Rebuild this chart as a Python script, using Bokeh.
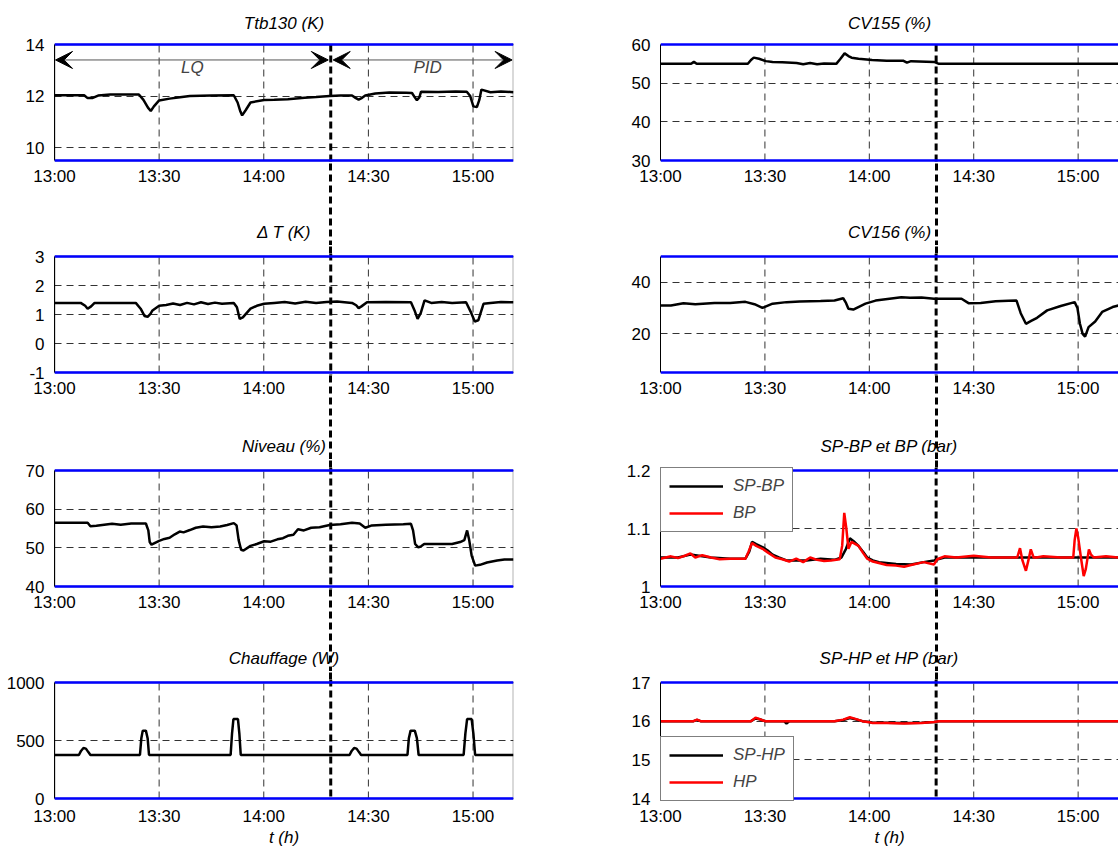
from bokeh.plotting import figure
from bokeh.layouts import gridplot
from bokeh.models import (Range1d, FixedTicker, Span, Arrow, VeeHead, Label, Legend,
                          LegendItem, BoxAnnotation, LinearAxis)
from bokeh.embed import file_html
from bokeh.resources import INLINE

FONT = "Liberation Sans"
FS = "17px"

# ---------------- data (time in minutes after 13:00) ----------------
x_ticks = [0, 30, 60, 90, 120]
x_tick_labels = ["13:00", "13:30", "14:00", "14:30", "15:00"]
t_end = 131.6
switch_t = 79.2          # LQ -> PID switch (about 14:19)
mode_labels = ["LQ", "PID"]
mode_label_t = [39.5, 107.0]

ttb_t = [0, 8.5, 9.5, 10.8, 12.5, 16, 24.2, 25.5, 26.8, 27.6,
         28.5, 30, 33, 36, 38.8, 45, 51.4, 52.5, 53.3, 53.8,
         54.8, 56.2, 60.1, 63, 66.9, 71.7, 75, 78.9, 82, 85.3,
         86.3, 87.2, 88.2, 89.1, 92, 96, 100.8, 102.5, 103.3, 103.9,
         104.6, 105.1, 110, 115, 118.2, 119.2, 120.1, 121.1, 121.8, 122.4,
         125, 128, 131.6]
ttb_v = [12.03, 12.03, 11.92, 11.92, 12.02, 12.06, 12.06, 11.85, 11.55, 11.42,
         11.6, 11.83, 11.9, 11.95, 12.0, 12.02, 12.03, 11.75, 11.4, 11.25,
         11.45, 11.75, 11.85, 11.86, 11.88, 11.93, 11.96, 12.0, 12.02, 12.02,
         11.93, 11.86, 11.93, 12.02, 12.1, 12.14, 12.13, 12.12, 11.95, 11.84,
         11.95, 12.17, 12.16, 12.18, 12.17, 12.0, 11.6, 11.57, 11.85, 12.25,
         12.15, 12.18, 12.15]

dT_t = [0, 7.5, 8.8, 9.5, 10.5, 11.5, 18, 23.3, 24.7, 25.8,
        26.7, 27.5, 28.1, 30, 32, 34, 36, 38, 40, 42,
        44, 46, 48, 51.4, 52.3, 53.1, 54, 56.2, 58, 60.1,
        63, 66, 69, 72, 75, 78, 81, 85.3, 86.5, 87.2,
        88, 89.6, 95, 102.2, 103.2, 104.1, 105, 106.1, 108, 111,
        114, 118, 119.3, 120.5, 121.5, 123, 125, 128, 131.6]
dT_v = [1.4, 1.4, 1.3, 1.2, 1.28, 1.4, 1.4, 1.4, 1.2, 0.95,
        0.92, 1.02, 1.14, 1.3, 1.33, 1.38, 1.33, 1.4, 1.35, 1.42,
        1.36, 1.41, 1.37, 1.4, 1.25, 0.85, 0.9, 1.2, 1.3, 1.37,
        1.4, 1.43, 1.38, 1.44, 1.4, 1.43, 1.45, 1.4, 1.32, 1.22,
        1.28, 1.42, 1.43, 1.42, 1.15, 0.85, 1.05, 1.49, 1.4, 1.43,
        1.4, 1.42, 1.1, 0.76, 0.8, 1.37, 1.4, 1.43, 1.42]

niv_t = [0, 9.5, 10.3, 12, 16.5, 19, 22, 26.2, 26.9, 27.3,
         27.8, 30, 31.5, 33, 34.5, 35.9, 37, 38.8, 40.5, 42.6,
         45, 47.5, 49.5, 51.4, 52.2, 52.8, 53.5, 54.2, 56.2, 58,
         60.1, 62, 63.9, 65.5, 66.9, 68.5, 69.8, 71.5, 73.6, 76,
         78.9, 82, 85.3, 87.5, 89.1, 91, 95, 100, 102.2, 102.8,
         103.4, 104.3, 105.1, 106, 110, 114, 116.3, 117.5, 118.3, 118.9,
         119.6, 120.6, 122, 124, 126.9, 129, 131.6]
niv_v = [56.5, 56.5, 55.6, 55.7, 56.2, 56.0, 56.3, 56.3, 54.5, 51.5,
         50.8, 51.8, 52.3, 52.6, 53.5, 54.2, 54.0, 54.6, 55.2, 55.5,
         55.3, 55.5, 55.9, 56.4, 55.8, 52, 49.5, 49.3, 50.5, 51.0,
         51.7, 51.6, 52.2, 52.5, 53.1, 53.4, 54.8, 54.5, 55.2, 55.3,
         55.9, 56.1, 56.5, 56.3, 55.2, 55.8, 56.0, 56.1, 56.2, 54.5,
         51, 50.1, 50.4, 51, 51, 51, 51.5, 52, 54.5, 52,
         48, 45.4, 45.6, 46.2, 46.7, 47, 47]

chauf_t = [0, 7.0, 7.6, 8.3, 9.0, 9.7, 10.3,
           24.5, 24.9, 25.3, 26.2, 26.7, 27.1,
           50.5, 50.9, 51.3, 52.6, 53.0, 53.4,
           84.6, 85.2, 85.9, 86.6, 87.3, 87.9,
           101.2, 101.6, 102.1, 103.3, 103.9, 104.4,
           117.3, 117.8, 118.3, 119.6, 120.1, 120.6,
           131.6]
chauf_v = [375, 375, 410, 435, 430, 400, 375,
           375, 520, 585, 585, 520, 375,
           375, 560, 685, 685, 560, 375,
           375, 410, 435, 430, 400, 375,
           375, 520, 585, 585, 520, 375,
           375, 560, 685, 685, 560, 375,
           375]

cv155_t = [0, 8.8, 9.6, 10.4, 25.1, 26.0, 26.8, 28.3, 30.3, 32.2,
           35, 39.1, 41, 43, 45, 47, 50.5, 51.6, 52.9, 54.0,
           54.9, 56.9, 60.8, 65, 69.7, 70.8, 72, 78.6, 80, 131.6]
cv155_v = [55, 55, 55.5, 55, 55, 56.0, 56.6, 56.3, 55.7, 55.5,
           55.4, 55.2, 54.9, 55.2, 54.9, 55.1, 55, 56.2, 57.7, 57.0,
           56.6, 56.3, 56.0, 55.8, 55.8, 55.3, 55.7, 55.5, 55, 55]

cv156_t = [0, 3, 6.6, 10, 15.5, 20, 24.4, 27, 29.3, 32.2,
           36.2, 40, 46, 50, 52.5, 53.3, 54, 55.4, 57, 58.9,
           61.8, 65.8, 69.2, 71.7, 75, 78.6, 82, 86.5, 88.5, 92,
           96.3, 100, 102.3, 103.5, 105, 106.5, 108.2, 111.1, 115, 119,
           119.8, 120.5, 121.3, 122, 123, 124.9, 126.9, 129.9, 131.6]
cv156_v = [31, 31, 31.9, 31.5, 32, 32, 32.4, 31.5, 30.1, 31.7,
           32.3, 32.5, 32.7, 32.9, 33.8, 32, 29.7, 29.4, 30.5, 31.7,
           32.9, 33.6, 34.2, 34, 34.1, 33.6, 33.6, 33.6, 31.9, 32,
           32.6, 32.8, 32.9, 28, 23.9, 25, 26.2, 29.1, 30.8, 32.3,
           30, 24, 20, 18.9, 22.6, 24.8, 28.5, 30.4, 31]

spbp_t = [0, 5, 8.6, 11, 14.5, 20, 24.4, 25.5, 26.3, 27.5,
          29.3, 30.8, 32.2, 34, 36.2, 42, 46, 50, 52, 53.3,
          54.4, 55.5, 56.9, 58.2, 59.4, 61, 62.8, 67.7, 72, 75.6,
          78.6, 81.6, 90, 131.6]
spbp_v = [1.05, 1.05, 1.055, 1.053, 1.05, 1.048, 1.048, 1.06, 1.077, 1.073,
          1.068, 1.062, 1.055, 1.05, 1.045, 1.045, 1.048, 1.046, 1.05, 1.065,
          1.083, 1.078, 1.07, 1.06, 1.05, 1.045, 1.042, 1.039, 1.038, 1.042,
          1.045, 1.05, 1.05, 1.05]

bp_t = [0, 3, 5, 7, 8.6, 10, 12, 14.5, 17, 20,
        24.4, 25.3, 26.3, 27.5, 29.3, 31, 33, 35, 37, 39,
        41, 43, 45, 47, 49, 51.5, 52.2, 52.8, 53.4, 54.0,
        54.9, 56.9, 58.2, 59.4, 61, 63, 65, 67.7, 70, 72,
        75.6, 78.6, 79.5, 81.6, 85, 90, 95, 100, 102.5, 103.3,
        104.0, 105.0, 105.7, 106.4, 107.2, 108, 110, 115, 118.6, 119.0,
        119.5, 120.0, 120.8, 121.6, 122.2, 122.6, 123.1, 123.7, 124.5, 128,
        131.6]
bp_v = [1.048, 1.052, 1.049, 1.053, 1.057, 1.05, 1.054, 1.05, 1.047, 1.048,
        1.048, 1.06, 1.075, 1.07, 1.065, 1.058, 1.05, 1.047, 1.043, 1.048,
        1.042, 1.05, 1.046, 1.044, 1.045, 1.047, 1.07, 1.127, 1.1, 1.065,
        1.077, 1.07, 1.058, 1.048, 1.043, 1.04, 1.037, 1.036, 1.034, 1.037,
        1.042, 1.038, 1.047, 1.052, 1.05, 1.053, 1.05, 1.05, 1.05, 1.066,
        1.045, 1.027, 1.045, 1.064, 1.05, 1.05, 1.052, 1.05, 1.05, 1.08,
        1.1, 1.085, 1.05, 1.018, 1.03, 1.045, 1.064, 1.055, 1.05, 1.052,
        1.05]

sphp_t = [0, 9.5, 10.5, 11.5, 26, 27.3, 28.5, 30, 35.5, 36.2,
          37, 50, 52.5, 54.4, 56, 58, 60, 61, 65, 70,
          75, 78.6, 80, 131.6]
sphp_v = [16.0, 16.0, 16.03, 16.0, 16.0, 16.07, 16.05, 16.0, 16.0, 15.94,
          16.0, 16.0, 16.03, 16.08, 16.05, 16.0, 15.98, 15.96, 15.96, 15.95,
          15.96, 15.98, 16.0, 16.0]

hp_t = [0, 9.5, 10.5, 11.5, 26, 27.3, 28.5, 30, 50, 52.5,
        54.4, 56, 58, 60, 61, 65, 70, 75, 78.6, 80,
        90, 131.6]
hp_v = [16.0, 16.0, 16.04, 16.0, 16.0, 16.09, 16.05, 16.0, 16.0, 16.04,
        16.1, 16.06, 16.0, 15.97, 15.95, 15.95, 15.94, 15.95, 15.98, 16.0,
        16.0, 16.0]

# panel definitions: title, y-range, y ticks, y tick labels
panels_left = [
    ("Ttb130 (K)", (9.5, 14), [10, 12, 14], ["10", "12", "14"]),
    ("\u0394 T (K)", (-1, 3), [-1, 0, 1, 2, 3], ["-1", "0", "1", "2", "3"]),
    ("Niveau (%)", (40, 70), [40, 50, 60, 70], ["40", "50", "60", "70"]),
    ("Chauffage (W)", (0, 1000), [0, 500, 1000], ["0", "500", "1000"]),
]
panels_right = [
    ("CV155 (%)", (30, 60), [30, 40, 50, 60], ["30", "40", "50", "60"]),
    ("CV156 (%)", (5, 50), [20, 40], ["20", "40"]),
    ("SP-BP et BP (bar)", (1, 1.2), [1, 1.1, 1.2], ["1", "1.1", "1.2"]),
    ("SP-HP et HP (bar)", (14, 17), [14, 15, 16, 17], ["14", "15", "16", "17"]),
]
x_label = "t (h)"

# ---------------- layout constants (pixels) ----------------
BOX_H = 116                  # height of each axes box
EXT = 3                      # frame margin above / below each box
TOP = [41, 8, 8, 8]          # border above each frame
BOTTOM = [82, 84, 82, 47]    # border under each frame (tick labels + next title)
TICK_STANDOFF = [-3, -3, -3, -1]
LABEL_STANDOFF = [34, 36, 34, -1]
GRID_DASH = "7 5"
MARK_DASH = "7 4"


def mark_axis():
    # an axis whose only tick continues the switch-time marker outside the frame
    return LinearAxis(ticker=FixedTicker(ticks=[switch_t]),
                      major_tick_in=-150, major_tick_out=0,
                      major_tick_line_color="black", major_tick_line_width=3,
                      major_tick_line_dash=MARK_DASH,
                      minor_tick_line_color=None, axis_line_color=None,
                      major_label_text_font_size="0px",
                      major_label_text_color=None,
                      major_label_standoff=0)


def make_fig(panels, col, row):
    title, (y0, y1), yt, yl = panels[row]
    left = col == 0
    upp = (y1 - y0) / BOX_H
    r0 = y0 - EXT * upp
    r1 = y1 + EXT * upp
    p = figure(frame_width=459 if left else 458, frame_height=BOX_H + 2 * EXT,
               x_range=Range1d(0, t_end), y_range=Range1d(r0, r1),
               title=title if row == 0 else None,
               output_backend="svg", toolbar_location=None,
               min_border_left=54 if left else 80,
               min_border_right=67 if left else 0,
               min_border_top=TOP[row],
               min_border_bottom=BOTTOM[row],
               background_fill_color="white", border_fill_color="white")
    p.outline_line_color = None
    if row == 0:
        p.title.align = "center"
        p.title.text_font = FONT
        p.title.text_font_size = FS
        p.title.text_font_style = "italic"
        p.title.text_color = "black"
        p.title.standoff = 18

    # y axis, bounded to the box
    ya = p.yaxis[0]
    ya.ticker = FixedTicker(ticks=yt)
    ya.major_label_overrides = dict(zip(yt, yl))
    ya.bounds = (y0, y1)
    ya.major_label_text_font = FONT
    ya.major_label_text_font_size = FS
    ya.major_label_text_color = "black"
    ya.major_tick_line_color = None
    ya.minor_tick_line_color = None
    ya.major_label_standoff = 4
    ya.axis_line_color = "black"
    ya.axis_line_width = 1

    # x axis: tick labels, and as axis label the title of the panel below
    xa = p.xaxis[0]
    xa.ticker = FixedTicker(ticks=x_ticks)
    xa.major_label_overrides = dict(zip(x_ticks, x_tick_labels))
    xa.major_label_text_font = FONT
    xa.major_label_text_font_size = FS
    xa.major_label_text_color = "black"
    xa.major_tick_line_color = None
    xa.minor_tick_line_color = None
    xa.major_label_standoff = TICK_STANDOFF[row]
    xa.axis_line_color = None
    xa.axis_label = panels[row + 1][0] if row < 3 else x_label
    xa.axis_label_text_font = FONT
    xa.axis_label_text_font_size = FS
    xa.axis_label_text_font_style = "italic"
    xa.axis_label_text_color = "black"
    xa.axis_label_standoff = LABEL_STANDOFF[row]

    if row < 3:
        p.below = [mark_axis()] + list(p.below)
    if row > 0:
        p.above = [mark_axis()]

    p.ygrid.grid_line_color = "#333333"
    p.ygrid.grid_line_dash = GRID_DASH
    p.xgrid.visible = False
    gx = [t for t in x_ticks if t > 0]
    p.segment(x0=gx, y0=[y0] * len(gx), x1=gx, y1=[y1] * len(gx),
              line_color="#333333", line_width=1, line_dash=GRID_DASH)

    if left:
        p.add_layout(BoxAnnotation(left=0, right=t_end, bottom=y0, top=y1,
                                   fill_alpha=0, line_color="black", line_width=2))
    for loc in (y0, y1):
        p.add_layout(Span(location=loc, dimension="width", line_color="#0000ff",
                          line_width=2.5))

    # switch-time marker inside the frame
    p.segment(x0=[switch_t], y0=[y1 if row == 0 else r1], x1=[switch_t],
              y1=[y0 if row == 3 else r0], line_color="black", line_width=3,
              line_dash=MARK_DASH)
    return p


figs_left = [make_fig(panels_left, 0, i) for i in range(4)]
figs_right = [make_fig(panels_right, 1, i) for i in range(4)]

LW = 2.5
figs_left[0].line(ttb_t, ttb_v, line_color="black", line_width=LW)
figs_left[1].line(dT_t, dT_v, line_color="black", line_width=LW)
figs_left[2].line(niv_t, niv_v, line_color="black", line_width=LW)
figs_left[3].line(chauf_t, chauf_v, line_color="black", line_width=LW)
figs_right[0].line(cv155_t, cv155_v, line_color="black", line_width=LW)
figs_right[1].line(cv156_t, cv156_v, line_color="black", line_width=LW)
r_spbp = figs_right[2].line(spbp_t, spbp_v, line_color="black", line_width=LW)
r_bp = figs_right[2].line(bp_t, bp_v, line_color="#ff0000", line_width=LW)
r_sphp = figs_right[3].line(sphp_t, sphp_v, line_color="black", line_width=LW)
r_hp = figs_right[3].line(hp_t, hp_v, line_color="#ff0000", line_width=LW)

# LQ / PID arrows in first panel
p1 = figs_left[0]
arrow_y = 13.4
for xs, xe in ((0.3, switch_t - 0.7), (switch_t + 0.7, t_end - 0.4)):
    p1.add_layout(Arrow(start=VeeHead(size=17, fill_color="black", line_color="black"),
                        end=VeeHead(size=17, fill_color="black", line_color="black"),
                        x_start=xs, y_start=arrow_y, x_end=xe, y_end=arrow_y,
                        line_color="#555555", line_width=1))
for txt, tx in zip(mode_labels, mode_label_t):
    p1.add_layout(Label(x=tx, y=13.1, text=txt, text_align="center",
                        text_baseline="middle", text_font=FONT,
                        text_font_size=FS, text_font_style="italic"))


def add_legend(p, items, loc):
    lg = Legend(items=[LegendItem(label=l, renderers=[r]) for l, r in items],
                location=loc, margin=0, padding=8, spacing=7,
                glyph_width=54, glyph_height=20, label_height=20,
                label_standoff=10, border_line_color="black",
                border_line_width=1, background_fill_color="white",
                background_fill_alpha=1.0, label_text_font=FONT,
                label_text_font_size=FS, label_text_font_style="italic")
    p.add_layout(lg)


add_legend(figs_right[2], [("SP-BP", r_spbp), ("BP", r_bp)], "top_left")
add_legend(figs_right[3], [("SP-HP", r_sphp), ("HP", r_hp)], "bottom_left")

grid = gridplot([[figs_left[i], figs_right[i]] for i in range(4)],
                toolbar_location=None)

open("out.html", "w").write(file_html(grid, INLINE))
